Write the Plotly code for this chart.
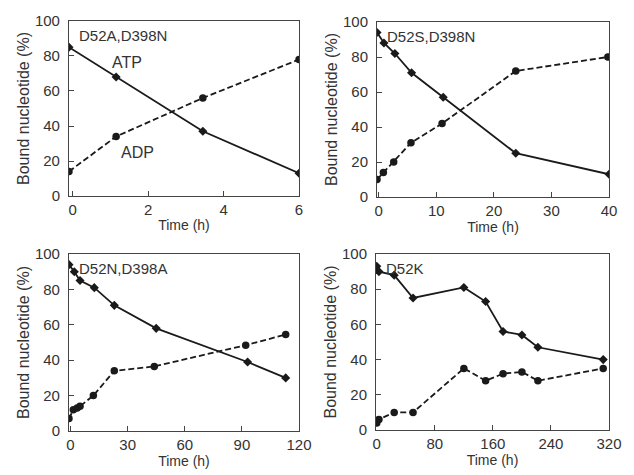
import plotly.graph_objects as go

# D52A,D398N
t1 = [-0.1, 1.15, 3.45, 6.0]
atp1 = [85, 68, 37, 13]
adp1 = [14, 34, 56, 78]

# D52S,D398N
t2 = [-0.3, 0.9, 2.8, 5.7, 11.2, 23.8, 40]
atp2 = [94, 88, 82, 71, 57, 25, 13]
t2b = [-0.3, 0.8, 2.6, 5.6, 11.0, 23.8, 39.8]
adp2 = [10, 14, 20, 31, 42, 72, 80]

# D52N,D398A
t3 = [-0.8, 2, 5, 12.5, 23, 45, 93, 113]
atp3 = [94, 90, 85, 81, 71, 58, 39, 30]
t3b = [-0.8, 1.5, 3.5, 5, 12, 23, 44, 92, 113]
adp3 = [7, 12, 13, 14, 20, 34, 36.5, 48.5, 54.5]

# D52K
t4 = [0, 3, 24, 50, 120, 150, 174, 200, 222, 312]
atp4 = [93, 90, 88, 75, 81, 73, 56, 54, 47, 40]
adp4 = [4, 6, 10, 10, 35, 28, 32, 33, 28, 35]

panels = [
    (t1, atp1, t1, adp1, "D52A,D398N", [-0.1, 6], [0, 2, 4, 6]),
    (t2, atp2, t2b, adp2, "D52S,D398N", [-0.3, 40], [0, 10, 20, 30, 40]),
    (t3, atp3, t3b, adp3, "D52N,D398A", [-0.8, 120], [0, 30, 60, 90, 120]),
    (t4, atp4, t4, adp4, "D52K", [-1, 320], [0, 80, 160, 240, 320]),
]

# page has an 8px body margin, so figure is 626x467 placed at (8, 8)
xdoms = [[0.0974, 0.4649], [0.5895, 0.9601], [0.0974, 0.4649], [0.5879, 0.9601]]
ydoms = [[0.5974, 0.9722], [0.5953, 0.9700], [0.0942, 0.4732], [0.0964, 0.4732]]

font = dict(family="Liberation Sans, Arial, sans-serif", size=14, color="#333")
ink = "#1a1a1a"

fig = go.Figure()
layout = {}
annotations = []
for i, (ta, ya, tb, yb, label, xr, xt) in enumerate(panels):
    n = "" if i == 0 else str(i + 1)
    # ATP: solid line, diamonds
    fig.add_trace(go.Scatter(
        x=ta, y=ya, mode="lines+markers", xaxis="x" + n, yaxis="y" + n,
        line=dict(color=ink, width=1.8),
        marker=dict(symbol="diamond", size=7, color=ink), showlegend=False))
    # ADP: dashed line, circles
    fig.add_trace(go.Scatter(
        x=tb, y=yb, mode="lines+markers", xaxis="x" + n, yaxis="y" + n,
        line=dict(color=ink, width=1.8, dash="6px,3px"),
        marker=dict(symbol="circle", size=7.5, color=ink), showlegend=False))
    axstyle = dict(showline=True, linecolor="#444", linewidth=1, mirror=True,
                   ticks="inside", ticklen=5, tickcolor="#444", showgrid=False,
                   zeroline=False, tickfont=dict(size=15), automargin=False)
    layout["xaxis" + n] = dict(axstyle, domain=xdoms[i], range=xr, tickvals=xt,
                               anchor="y" + n,
                               title=dict(text="Time (h)", standoff=3,
                                          font=dict(size=14)))
    layout["yaxis" + n] = dict(axstyle, domain=ydoms[i], range=[0, 100],
                               tickvals=[0, 20, 40, 60, 80, 100], anchor="x" + n,
                               ticklabelstandoff=5,
                               title=dict(text="Bound nucleotide (%)", standoff=1,
                                          font=dict(size=16)))
    annotations.append(dict(text=label, x=0.035, y=0.975, xref="x%s domain" % n,
                            yref="y%s domain" % n, xanchor="left", yanchor="top",
                            showarrow=False, font=dict(size=15, color="#333")))

annotations.append(dict(text="ATP", x=1.45, y=76, xref="x", yref="y",
                        showarrow=False, font=dict(size=16, color="#333")))
annotations.append(dict(text="ADP", x=1.73, y=25, xref="x", yref="y",
                        showarrow=False, font=dict(size=16, color="#333")))

fig.update_layout(
    width=626, height=467, margin=dict(l=0, r=0, t=0, b=0),
    plot_bgcolor="white", paper_bgcolor="white", font=font,
    annotations=annotations, **layout)

fig.write_html("out.html")
